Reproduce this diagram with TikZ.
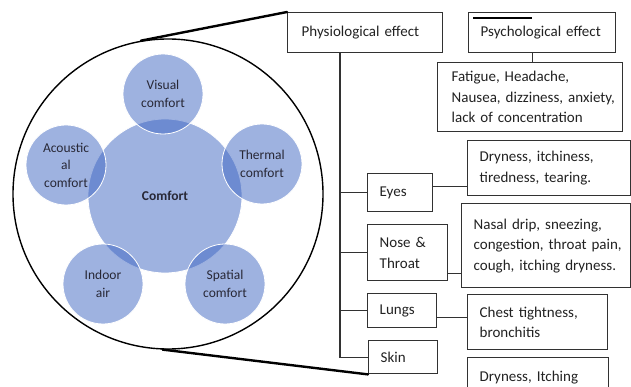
\documentclass[tikz,border=0pt]{standalone}
\usepackage{fontspec}
\setmainfont{Carlito}
\definecolor{bubblue}{RGB}{62,102,195}
\definecolor{boxgray}{RGB}{50,50,50}
\definecolor{txtdark}{RGB}{34,34,34}
\definecolor{txtgray}{RGB}{40,40,54}
\begin{document}
\begin{tikzpicture}[x=1pt,y=-1pt,
  bub/.style={circle, fill=bubblue, fill opacity=0.5, text opacity=1, draw=white, draw opacity=1, line width=0.8pt, minimum size=80pt, inner sep=0pt, align=center, text=txtgray, font=\fontsize{13.5}{17.5}\selectfont},
  box/.style={draw=boxgray, line width=1.4pt, anchor=north west, inner ysep=0pt, align=left, text=txtdark, font=\fontsize{15}{20.5}\selectfont},
  link/.style={draw=boxgray, line width=1.4pt},
  zoomline/.style={draw=black, line width=2.4pt, line cap=round}]
\useasboundingbox (0,0) rectangle (631,387);
\clip (0,0) rectangle (631,387);
\fill[white] (0,0) rectangle (631,387);

% left: comfort circles
\node[circle, draw=black, line width=1.4pt, minimum size=310pt, inner sep=0pt] (big) at (168,194) {};
\node[bub, minimum size=154pt, font=\fontsize{13.5}{17.5}\selectfont\bfseries] (comfort) at (165,196) {Comfort};
\node[bub] (visual) at (163,94) {Visual\\comfort};
\node[bub] (thermal) at (262,164) {Thermal\\comfort};
\node[bub] (acoustic) at (66,165) {Acoustic\\al\\comfort};
\node[bub] (indoor) at (103,284) {Indoor\\air};
\node[bub] (spatial) at (225,284) {Spatial\\comfort};

% right: boxes
\node[box, minimum width=155pt, minimum height=40pt, inner xsep=14pt, text width=127pt] (phys) at (287,12) {Physiological effect};
\node[box, minimum width=147pt, minimum height=40pt, inner xsep=12pt, text width=123pt] (psych) at (468,12) {Psychological effect};
\node[box, minimum width=185pt, minimum height=69pt, inner xsep=14pt, text width=157pt] (fat) at (437,62) {\mbox{Fatigue, Headache,}\\\mbox{Nausea, dizziness, anxiety,}\\\mbox{lack of concentration}};
\node[box, minimum width=163pt, minimum height=55pt, inner xsep=12pt, text width=139pt] (dry1) at (467,140) {\mbox{Dryness, itchiness,}\\\mbox{tiredness, tearing.}};
\node[box, minimum width=65pt, minimum height=38pt, inner xsep=12pt, text width=41pt] (eyes) at (367,173) {Eyes};
\node[box, minimum width=80pt, minimum height=56pt, inner xsep=12pt, text width=56pt] (nose) at (367,224) {\mbox{Nose \&}\\\mbox{Throat}};
\node[box, minimum width=169pt, minimum height=84pt, inner xsep=12pt, text width=145pt] (nasal) at (461,203) {\mbox{Nasal drip, sneezing,}\\\mbox{congestion, throat pain,}\\\mbox{cough, itching dryness.}};
\node[box, minimum width=69pt, minimum height=34pt, inner xsep=12pt, text width=45pt] (lungs) at (367,293) {Lungs};
\node[box, minimum width=140pt, minimum height=55pt, inner xsep=12pt, text width=116pt] (chest) at (467,294) {\mbox{Chest tightness,}\\\mbox{bronchitis}};
\node[box, minimum width=69pt, minimum height=33pt, inner xsep=12pt, text width=45pt] (skin) at (368,340) {Skin};
\node[box, minimum width=141pt, minimum height=40pt, inner xsep=12pt, text width=117pt] (dry2) at (467,357) {\mbox{Dryness, Itching}};

% connectors
\coordinate (trunk) at (340,52);
\draw[link] (phys.south -| trunk) |- (skin.west);
\draw[link] (eyes.west) -- (eyes.west -| trunk);
\draw[link] (nose.west) -- (nose.west -| trunk);
\draw[link] (lungs.west) -- (lungs.west -| trunk);
\draw[link] ([yshift=6pt]eyes.east) -- ([yshift=6pt]eyes.east -| dry1.west);
\draw[link] ([yshift=-21pt]nose.east) -- ([yshift=-21pt]nose.east -| nasal.west);
\draw[link] ([yshift=-7pt]lungs.east) -- ([yshift=-7pt]lungs.east -| chest.west);
\draw[link] ([xshift=-9.5pt]psych.south) -- ([xshift=-9.5pt]psych.south |- fat.north);
\draw[draw=black, line width=2pt] ([shift={(5,6)}]psych.north west) -- ([shift={(64,6)}]psych.north west);

% zoom lines
\draw[zoomline] (big.100) -- (phys.north west);
\draw[zoomline] (big.268) -- (skin.south west);
\end{tikzpicture}
\end{document}
